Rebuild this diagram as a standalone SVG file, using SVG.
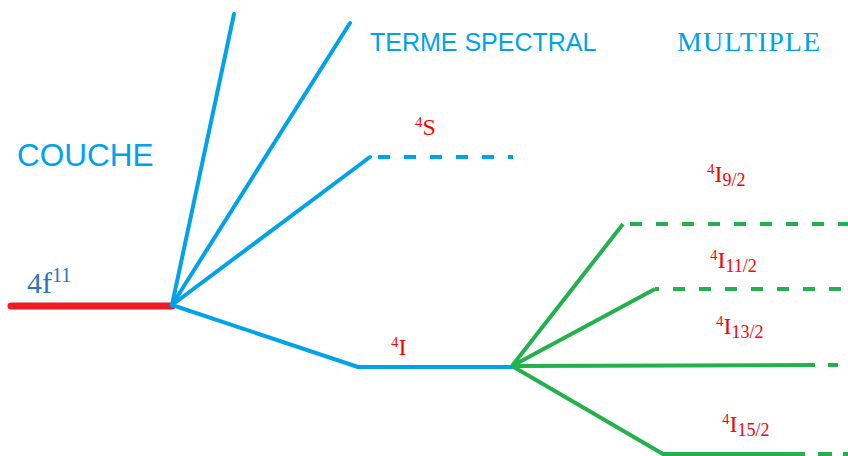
<svg xmlns="http://www.w3.org/2000/svg" width="848" height="456" viewBox="0 0 848 456">
<style>
.blue{stroke:#00A2E8;stroke-width:4;fill:none;stroke-linecap:round;stroke-linejoin:round}
.green{stroke:#22B14C;stroke-width:4;fill:none;stroke-linejoin:round}
.red{stroke:#ED1C24;stroke-width:7;fill:none;stroke-linecap:round}
.dash{stroke-dasharray:12 14;stroke-linecap:butt}
.sans{font-family:"Liberation Sans",Arial,sans-serif;fill:#00A2E8}
.serif{font-family:"Liberation Serif","Times New Roman",serif}
.lbl{font-family:"Liberation Serif","Times New Roman",serif;fill:#FF0000;font-size:24px}
</style>
<rect width="848" height="456" fill="#FFFFFF"/>
<g id="connectors">
<line class="red" x1="11" y1="306" x2="172" y2="306"/>
<polyline class="blue" points="234,14 172,305"/>
<polyline class="blue" points="350,23 172,305"/>
<polyline class="blue" points="370,157 172,305"/>
<polyline class="blue" points="172,305 358,367 512,367"/>
<line class="blue dash" x1="376" y1="157" x2="513" y2="157" stroke-dashoffset="-2"/>
<polyline class="green" points="512,366 623,224"/>
<line class="green dash" x1="623" y1="224" x2="848" y2="224" stroke-dashoffset="-7"/>
<polyline class="green" points="512,366 655,289"/>
<line class="green dash" x1="655" y1="289" x2="848" y2="289" stroke-dashoffset="-18"/>
<polyline class="green" points="512,366 815,365"/>
<line class="green" x1="828" y1="365" x2="838" y2="365"/>
<polyline class="green" points="512,366 663,454 805,454"/>
<line class="green" x1="818" y1="454" x2="832" y2="454"/>
<line class="green" x1="843" y1="454" x2="848" y2="454"/>
</g>
<g id="couche"><text class="sans" x="17" y="166" font-size="31.5">COUCHE</text></g>
<g id="terme"><text class="sans" x="370" y="51" font-size="25">TERME SPECTRAL</text></g>
<g id="multiple"><text class="serif" x="677" y="51" font-size="28" fill="#00A2E8" textLength="143" lengthAdjust="spacing">MULTIPLE</text></g>
<g id="n4f11"><text class="serif" x="27" y="293" font-size="30" fill="#2E75B6">4f<tspan font-size="20" dy="-11">11</tspan></text></g>
<g id="n4S"><text class="lbl" x="415" y="135"><tspan font-size="15" dy="-8">4</tspan><tspan dy="8">S</tspan></text></g>
<g id="n4I"><text class="lbl" x="391" y="355"><tspan font-size="15" dy="-8">4</tspan><tspan dy="8">I</tspan></text></g>
<g id="n4I92"><text class="lbl" x="707" y="182"><tspan font-size="15" dy="-8">4</tspan><tspan dy="8">I</tspan><tspan font-size="18" dy="4">9/2</tspan></text></g>
<g id="n4I112"><text class="lbl" x="710" y="268"><tspan font-size="15" dy="-8">4</tspan><tspan dy="8">I</tspan><tspan font-size="18" dy="4">11/2</tspan></text></g>
<g id="n4I132"><text class="lbl" x="716" y="334"><tspan font-size="15" dy="-8">4</tspan><tspan dy="8">I</tspan><tspan font-size="18" dy="4">13/2</tspan></text></g>
<g id="n4I152"><text class="lbl" x="722" y="432"><tspan font-size="15" dy="-8">4</tspan><tspan dy="8">I</tspan><tspan font-size="18" dy="4">15/2</tspan></text></g>
</svg>
